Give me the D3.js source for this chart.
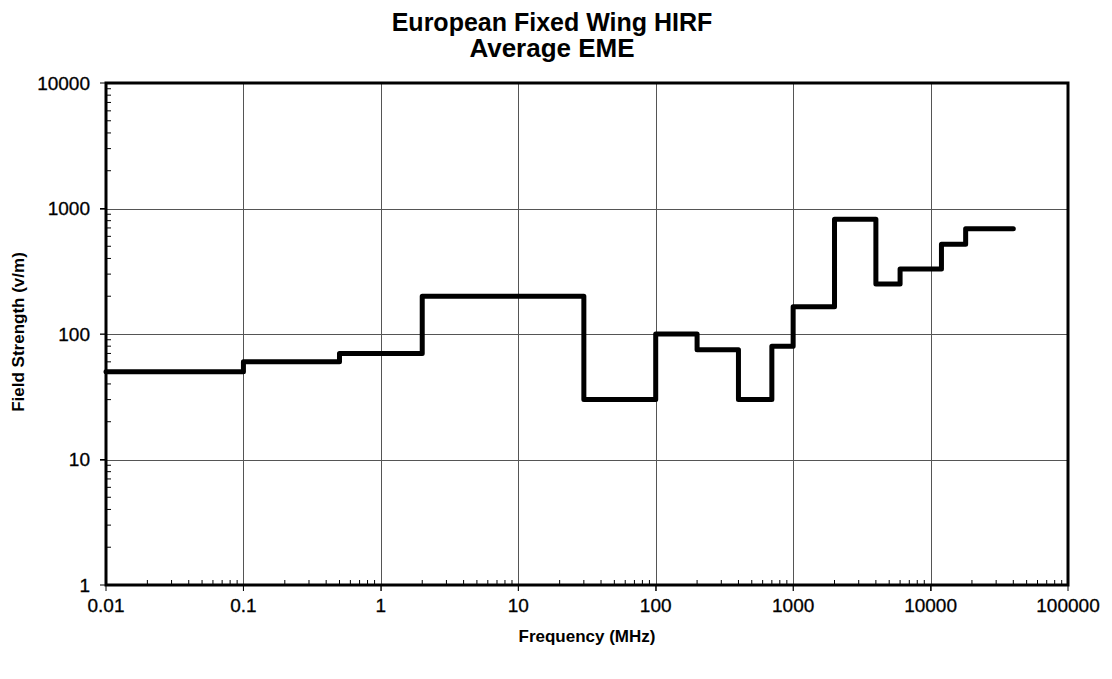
<!DOCTYPE html>
<html>
<head>
<meta charset="utf-8">
<script src="https://cdn.jsdelivr.net/npm/d3@7"></script>
<style>
  body { margin: 0; background: #fff; }
  text { font-family: "Liberation Sans", Arial, sans-serif; fill: #000; }
</style>
</head>
<body>
<script>
// step edges in MHz and the field strength held on each step (v/m)
const freqEdges = [0.01, 0.1, 0.5, 2, 30, 100, 200, 400, 700, 1000, 2000, 4000, 6000, 12000, 18000, 40000];
const fieldValues = [50, 60, 70, 200, 30, 100, 75, 30, 80, 165, 820, 250, 330, 520, 690];
const xTicks = [0.01, 0.1, 1, 10, 100, 1000, 10000, 100000];
const yTicks = [1, 10, 100, 1000, 10000];
const titleLines = ["European Fixed Wing HIRF", "Average EME"];

const width = 1112, height = 679;
const margin = {left: 106, right: 44, top: 83, bottom: 94};

const svg = d3.select("body").append("svg")
    .attr("width", width)
    .attr("height", height);

const x = d3.scaleLog()
    .domain([0.01, 100000])
    .range([margin.left, width - margin.right]);
const y = d3.scaleLog()
    .domain([1, 10000])
    .range([height - margin.bottom, margin.top]);

// minor tick values, 2..9 in each decade
const minors = (lo, hi) => {
    let out = [];
    for (let e = Math.log10(lo); e < Math.log10(hi); e++) {
        for (let k = 2; k <= 9; k++) out.push(k * Math.pow(10, e));
    }
    return out;
};

// grid
const grid = svg.append("g").attr("stroke", "#555").attr("stroke-width", 1);
grid.selectAll(".gx")
    .data(xTicks.slice(1, -1))
    .enter()
    .append("line")
    .attr("x1", d => Math.round(x(d)) + 0.5)
    .attr("x2", d => Math.round(x(d)) + 0.5)
    .attr("y1", y(10000))
    .attr("y2", y(1) + 6);
grid.selectAll(".gy")
    .data(yTicks.slice(1, -1))
    .enter()
    .append("line")
    .attr("y1", d => Math.round(y(d)) + 0.5)
    .attr("y2", d => Math.round(y(d)) + 0.5)
    .attr("x1", x(0.01) - 6)
    .attr("x2", x(100000));

// major ticks outside
svg.append("g").selectAll("line")
    .data(xTicks)
    .enter()
    .append("line")
    .attr("x1", d => x(d)).attr("x2", d => x(d))
    .attr("y1", y(1)).attr("y2", y(1) + 6)
    .attr("stroke", "#000").attr("stroke-width", 1);
svg.append("g").selectAll("line")
    .data(yTicks)
    .enter()
    .append("line")
    .attr("y1", d => y(d)).attr("y2", d => y(d))
    .attr("x1", x(0.01) - 6).attr("x2", x(0.01))
    .attr("stroke", "#000").attr("stroke-width", 1);

// minor ticks inside
svg.append("g").selectAll("line")
    .data(minors(0.01, 100000))
    .enter()
    .append("line")
    .attr("x1", d => x(d)).attr("x2", d => x(d))
    .attr("y1", y(1)).attr("y2", y(1) - 5)
    .attr("stroke", "#000").attr("stroke-width", 1);
svg.append("g").selectAll("line")
    .data(minors(1, 10000))
    .enter()
    .append("line")
    .attr("y1", d => y(d)).attr("y2", d => y(d))
    .attr("x1", x(0.01)).attr("x2", x(0.01) + 5)
    .attr("stroke", "#000").attr("stroke-width", 1);

// frame
svg.append("rect")
    .attr("x", x(0.01))
    .attr("y", y(10000))
    .attr("width", x(100000) - x(0.01))
    .attr("height", y(1) - y(10000))
    .attr("fill", "none")
    .attr("stroke", "#000")
    .attr("stroke-width", 3);

// step line
const pts = fieldValues.map((v, i) => [freqEdges[i], v]);
pts.push([freqEdges[freqEdges.length - 1], fieldValues[fieldValues.length - 1]]);
const line = d3.line()
    .x(d => x(d[0]))
    .y(d => y(d[1]))
    .curve(d3.curveStepAfter);
svg.append("path")
    .datum(pts)
    .attr("d", line)
    .attr("fill", "none")
    .attr("stroke", "#000")
    .attr("stroke-width", 5)
    .attr("stroke-linejoin", "round")
    .attr("stroke-linecap", "round");

// tick labels
svg.append("g").selectAll("text")
    .data(xTicks)
    .enter()
    .append("text")
    .attr("x", d => x(d))
    .attr("y", y(1) + 27)
    .attr("text-anchor", "middle")
    .style("font-size", "19px")
    .style("stroke", "#000").style("stroke-width", 0.3)
    .text(d => String(d));
svg.append("g").selectAll("text")
    .data(yTicks)
    .enter()
    .append("text")
    .attr("x", x(0.01) - 16)
    .attr("y", d => y(d))
    .attr("dy", "0.35em")
    .attr("text-anchor", "end")
    .style("font-size", "19px")
    .style("stroke", "#000").style("stroke-width", 0.3)
    .text(d => String(d));

// titles
svg.append("g").selectAll("text")
    .data(titleLines)
    .enter()
    .append("text")
    .attr("x", 552)
    .attr("y", (d, i) => 31 + i * 26)
    .attr("text-anchor", "middle")
    .style("font-size", (d, i) => i ? "26px" : "25px")
    .style("font-weight", "bold")
    .text(d => d);

svg.append("text")
    .attr("x", 587)
    .attr("y", 642)
    .attr("text-anchor", "middle")
    .style("font-size", "17px")
    .style("font-weight", "bold")
    .text("Frequency (MHz)");

svg.append("text")
    .attr("transform", `translate(24, 332) rotate(-90)`)
    .attr("text-anchor", "middle")
    .style("font-size", "17px")
    .style("font-weight", "bold")
    .text("Field Strength (v/m)");
</script>
</body>
</html>
